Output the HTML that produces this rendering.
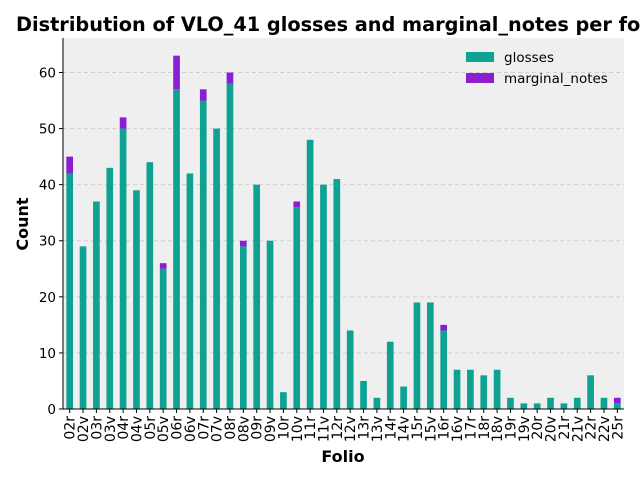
<!DOCTYPE html>
<html><head><meta charset="utf-8"><style>
body{margin:0;background:#fff;width:640px;height:480px;overflow:hidden;font-family:"DejaVu Sans",sans-serif}
</style></head><body>
<svg id="chart" width="640" height="480" xmlns="http://www.w3.org/2000/svg" font-family="DejaVu Sans, sans-serif">
<text x="16" y="31" font-size="19.3" font-weight="bold">Distribution of VLO_41 glosses and marginal_notes per folio</text>
<rect x="63" y="38" width="561" height="371" fill="#efefef"/>
<g id="grid"></g><g id="bars"></g><g id="axes"></g>
<text x="343" y="462" font-size="16" font-weight="bold" text-anchor="middle">Folio</text>
<text transform="translate(28,224) rotate(-90)" font-size="16" font-weight="bold" text-anchor="middle">Count</text>
<g>
<rect x="466" y="52" width="28" height="10" fill="#0fa192"/>
<text x="504" y="62" font-size="13.5">glosses</text>
<rect x="466" y="73" width="28" height="10" fill="#8a1fd1"/>
<text x="504" y="83" font-size="13.5">marginal_notes</text>
</g>
</svg>
<script>
const categories=["02r","02v","03r","03v","04r","04v","05r","05v","06r","06v","07r","07v","08r","08v","09r","09v","10r","10v","11r","11v","12r","12v","13r","13v","14r","14v","15r","15v","16r","16v","17r","18r","18v","19r","19v","20r","20v","21r","21v","22r","22v","25r"];
const glosses=[42,29,37,43,50,39,44,25,57,42,55,50,58,29,40,30,3,36,48,40,41,14,5,2,12,4,19,19,14,7,7,6,7,2,1,1,2,1,2,6,2,1];
const marginalNotes=[3,0,0,0,2,0,0,1,6,0,2,0,2,1,0,0,0,1,0,0,0,0,0,0,0,0,0,0,1,0,0,0,0,0,0,0,0,0,0,0,0,1];
const yTicks=[0,10,20,30,40,50,60];
const NS="http://www.w3.org/2000/svg";
const L=63,R=624,T=38,B=409,yMax=66.15;
const xs=i=>L+(i+0.5)*(R-L)/categories.length;
const ys=v=>B-v*(B-T)/yMax;
const bw=0.5*(R-L)/categories.length;
const grid=document.getElementById('grid'),bars=document.getElementById('bars'),axes=document.getElementById('axes');
function mk(tag,attrs,parent){const e=document.createElementNS(NS,tag);for(const k in attrs)e.setAttribute(k,attrs[k]);parent.appendChild(e);return e;}
yTicks.forEach(t=>{
 const y=ys(t);
 const g=mk('line',{x1:L,x2:R,y1:y,y2:y,stroke:'#cfcfcf','stroke-dasharray':'4,3','stroke-width':1},grid);
 
 
 const tk=mk('line',{x1:L-4,x2:L,y1:y,y2:y,stroke:'#000'},axes);
 
 
 const tx=mk('text',{x:L-7,y:y+5,'font-size':13.5,'text-anchor':'end'},axes);
 tx.textContent=t;
 
 
});
categories.forEach((c,i)=>{
 const x=xs(i);
 const r1=mk('rect',{x:x-bw/2,y:ys(glosses[i]),width:bw,height:B-ys(glosses[i]),fill:'#0fa192'},bars);
 
 
 if(marginalNotes[i]>0){
  const r2=mk('rect',{x:x-bw/2,y:ys(glosses[i]+marginalNotes[i]),width:bw,height:ys(glosses[i])-ys(glosses[i]+marginalNotes[i]),fill:'#8a1fd1'},bars);
  
  
 }
 const tk=mk('line',{x1:x,x2:x,y1:B,y2:B+4,stroke:'#000'},axes);
 
 
 const tx=mk('text',{transform:`translate(${x+5},${B+7}) rotate(-90)`,'font-size':14,'text-anchor':'end'},axes);
 tx.textContent=c;
 
 
});
const ax=mk('line',{x1:L,x2:L,y1:T,y2:B,stroke:'#000'},axes);


const bx=mk('line',{x1:L,x2:R,y1:B,y2:B,stroke:'#000'},axes);


</script>
</body></html>
